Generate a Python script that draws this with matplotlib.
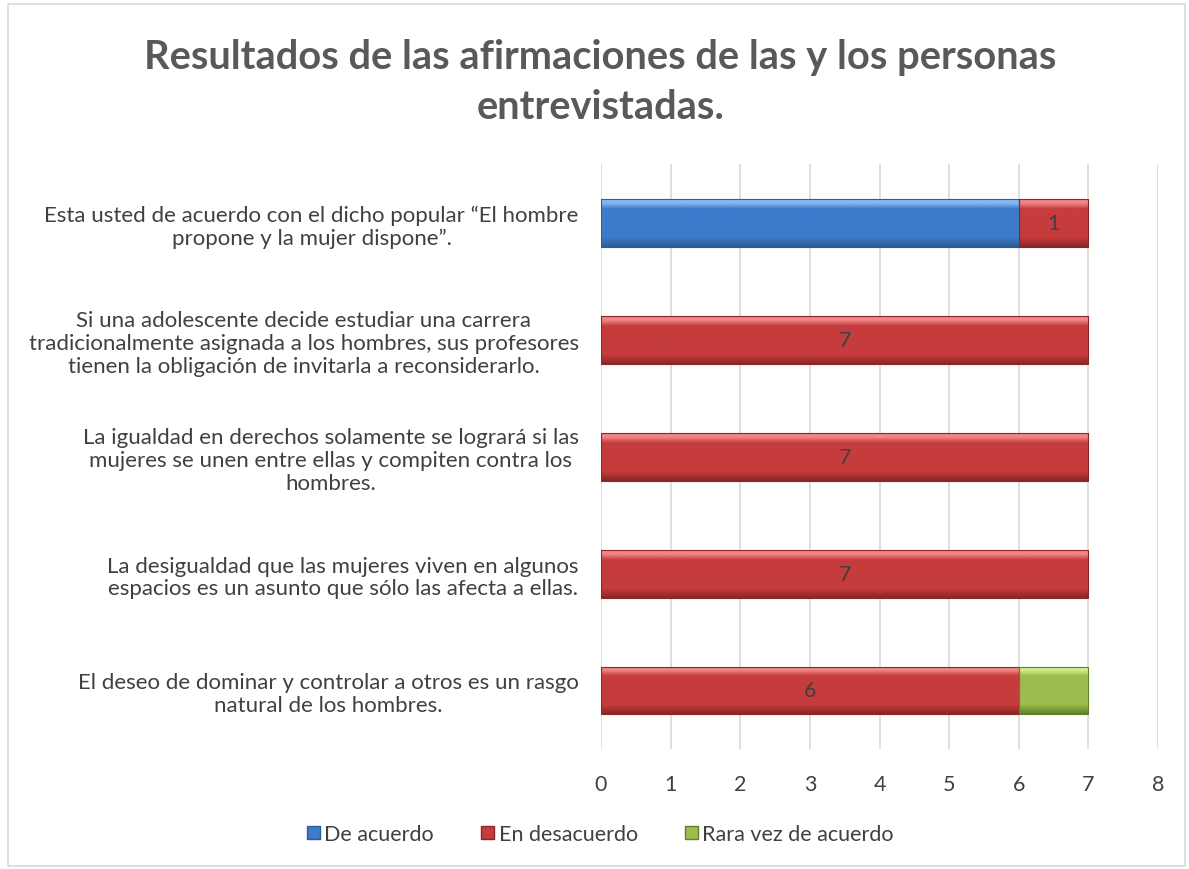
import matplotlib.pyplot as plt
import matplotlib.patches as patches
import numpy as np
from matplotlib.colors import LinearSegmentedColormap

# Data
categories = [
    "Esta usted de acuerdo con el dicho popular \u201cEl hombre\npropone y la mujer dispone\u201d.",
    "Si una adolescente decide estudiar una carrera\ntradicionalmente asignada a los hombres, sus profesores\ntienen la obligación de invitarla a reconsiderarlo.",
    "La igualdad en derechos solamente se logrará si las\nmujeres se unen entre ellas y compiten contra los\nhombres.",
    "La desigualdad que las mujeres viven en algunos\nespacios es un asunto que sólo las afecta a ellas.",
    "El deseo de dominar y controlar a otros es un rasgo\nnatural de los hombres.",
]
series_names = ["De acuerdo", "En desacuerdo", "Rara vez de acuerdo"]
de_acuerdo = [6, 0, 0, 0, 0]
en_desacuerdo = [1, 7, 7, 7, 6]
rara_vez = [0, 0, 0, 0, 1]
show_label = [[False] * 5, [True] * 5, [False] * 5]

title = "Resultados de las afirmaciones de las y los personas\nentrevistadas."

# (top, mid, bottom) colours for the bevel look
palettes = [
    ("#86B8F2", "#3D7BCB", "#2E5C96"),
    ("#F28585", "#C63C3C", "#8E2626"),
    ("#D2EC86", "#9CBD4F", "#62822A"),
]

plt.rcParams['font.family'] = ['Lato', 'DejaVu Sans']
TXT = "#404040"

fig = plt.figure(figsize=(11.89, 8.70), dpi=100)
fig.patches.append(patches.Rectangle((0.007, 0.004), 0.99, 0.99, transform=fig.transFigure,
                                     fill=False, edgecolor="#D9D9D9", linewidth=1.2))
ax = fig.add_axes([0.5055, 0.138, 0.4685, 0.672])

n = len(categories)
y = np.arange(n)[::-1]
bar_h = 0.41


def gradient_bar(ax, x0, w, yc, h, pal):
    rect = patches.Rectangle((x0, yc - h / 2), w, h, facecolor=pal[1], edgecolor="none", zorder=2)
    ax.add_patch(rect)
    cmap = LinearSegmentedColormap.from_list("g", [(0, pal[2]), (0.2, pal[1]), (0.8, pal[1]),
                                                  (0.92, pal[0]), (1, pal[0])])
    grad = np.linspace(0, 1, 100).reshape(-1, 1)
    im = ax.imshow(grad, cmap=cmap, aspect="auto", origin="lower",
                   extent=(x0, x0 + w, yc - h / 2, yc + h / 2), zorder=2.5)
    im.set_clip_path(rect)
    edge = patches.Rectangle((x0, yc - h / 2), w, h, fill=False, edgecolor=pal[2],
                             linewidth=0.8, zorder=3)
    ax.add_patch(edge)


all_series = [de_acuerdo, en_desacuerdo, rara_vez]
left = np.zeros(n)
for s, vals in enumerate(all_series):
    for i in range(n):
        v = vals[i]
        if v > 0:
            gradient_bar(ax, left[i], v, y[i], bar_h, palettes[s])
            if show_label[s][i]:
                ax.text(left[i] + v / 2, y[i], str(v), ha="center", va="center",
                        fontsize=15.5, color=TXT, zorder=4)
    left += np.array(vals)

ax.set_xlim(0, 8)
ax.set_ylim(-0.5, n - 0.5)
ax.set_xticks(range(0, 9))
ax.set_yticks(y)
ax.set_yticklabels(categories, fontsize=16, color=TXT, ha="right", multialignment="center",
                   linespacing=1.17)
ax.tick_params(axis="both", length=0, labelcolor=TXT)
ax.tick_params(axis="x", labelsize=15.5, pad=18)
ax.tick_params(axis="y", pad=16)
ax.grid(axis="x", color="#D9D9D9", linewidth=1.2, zorder=0)
ax.set_axisbelow(True)
for sp in ax.spines.values():
    sp.set_visible(False)

fig.text(0.505, 0.905, title, ha="center", va="center", fontsize=28.7, fontweight="bold",
         color="#595959", linespacing=1.45)

handles = [patches.Patch(facecolor=p[1], edgecolor=p[2]) for p in palettes]
fig.legend(handles, series_names, loc="center", bbox_to_anchor=(0.505, 0.04), ncol=3,
           frameon=False, fontsize=15.5, labelcolor=TXT, handlelength=0.6, handleheight=0.6,
           handletextpad=0.2, columnspacing=2.2)

plt.savefig("out.png", dpi=100)
